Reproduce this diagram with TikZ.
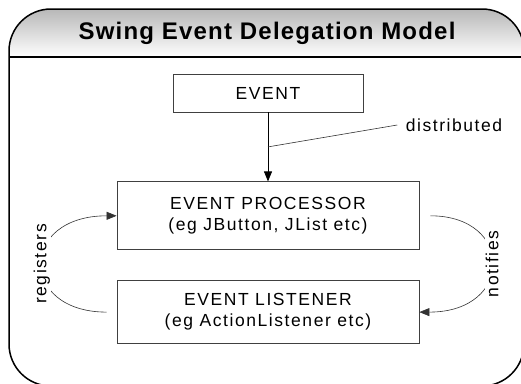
\documentclass[tikz,border=0pt]{standalone}
\usepackage{fontspec}
\setmainfont{Liberation Sans}[LetterSpace=9]
\newfontfamily\titlefont{Liberation Sans}[LetterSpace=5]
\usetikzlibrary{
  arrows.meta,
  positioning,
  calc
}

\begin{document}
\begin{tikzpicture}[
    x=1pt, y=-1pt,
    every node/.style={font=\fontsize{17.5}{21}\selectfont},
    box/.style={
      draw=black!75,
      line width=0.8pt,
      align=center,
      inner sep=0pt
    },
    ar/.style={-{Triangle[length=10pt, width=8pt]}, line width=0.8pt},
    thin line/.style={line width=0.6pt, draw=black!80},
    tag/.style={fill=white, inner sep=1pt, rotate=90}
  ]
    \useasboundingbox (0,0) rectangle (521,383);
    \clip (0,0) rectangle (521,383);

    % title bar and frame
    \shade[top color=black!28, bottom color=white]
      (9,57) [rounded corners=42pt] -- (9,9) -- (524,9) [sharp corners] -- (524,57) -- cycle;
    \draw[line width=1.5pt, rounded corners=42pt] (9,9) rectangle (524,386);
    \draw[line width=1.8pt] (9,57) -- (524,57);
    \node (title) at (267,33) {\titlefont\bfseries\fontsize{24}{24}\selectfont Swing Event Delegation Model};

    % boxes
    \node[box, minimum width=190pt, minimum height=38pt] (event) at (268,93) {EVENT};
    \node[box, minimum width=302pt, minimum height=68pt, below=69pt of event] (proc)
      {EVENT PROCESSOR\\(eg JButton, JList etc)};
    \node[box, minimum width=302pt, minimum height=63pt, below=30pt of proc] (listen)
      {EVENT LISTENER\\(eg ActionListener etc)};

    % event is distributed to the processor
    \draw[ar] (event) -- (proc);
    \node (dist) at (454,125) {distributed};
    \draw[thin line] ([xshift=-5pt]dist.west) -- ($(event.south)!0.5!(proc.north)$);

    % listener registers, processor notifies
    \draw[thin line, ar, line width=0.6pt] ([xshift=-10pt]listen.west)
      .. controls +(-88,0) and +(-98,0) .. (proc.west)
      node[tag, midway] {registers};
    \draw[thin line, ar, line width=0.6pt] ([xshift=11pt]proc.east)
      .. controls +(84,0) and +(95,0) .. (listen.east)
      node[tag, midway] {notifies};

  \end{tikzpicture}
\end{document}
